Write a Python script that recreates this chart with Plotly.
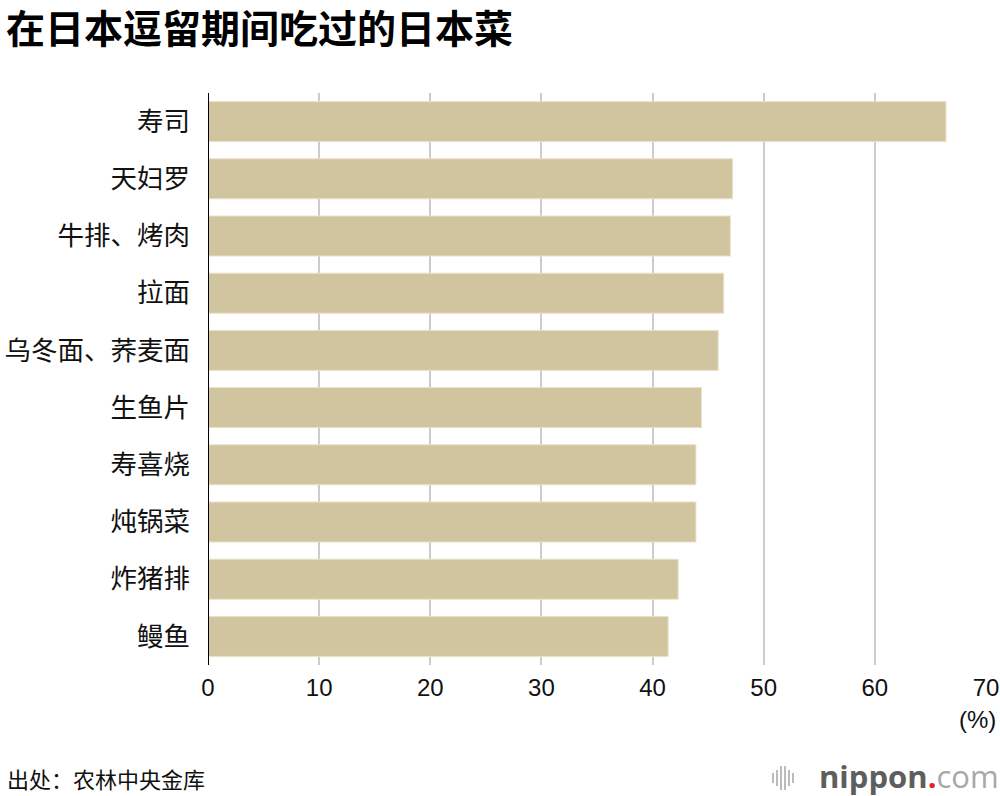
import plotly.graph_objects as go

categories = ["寿司", "天妇罗", "牛排、烤肉", "拉面", "乌冬面、荞麦面",
              "生鱼片", "寿喜烧", "炖锅菜", "炸猪排", "鳗鱼"]
values = [66.4, 47.2, 47.0, 46.4, 45.9, 44.4, 43.9, 43.9, 42.3, 41.4]
x_ticks = [0, 10, 20, 30, 40, 50, 60, 70]

W, H = 1000, 796
L, R, T, B = 208, 14, 93, 131
pw = W - L - R
ph = H - T - B

def px_x(px):
    return (px - L) / pw

def px_y(py):
    return (H - B - py) / ph

CJK = "Noto Sans CJK SC, Noto Sans, sans-serif"
NUM = "Liberation Sans, Arial, sans-serif"

fig = go.Figure(go.Bar(
    x=values, y=categories, orientation="h",
    marker=dict(color="#D1C5A0", line=dict(color="#E9E1CA", width=1)),
    width=0.7, hoverinfo="x+y",
))

fig.update_layout(
    width=W, height=H,
    margin=dict(l=L, r=R, t=T, b=B, autoexpand=False),
    paper_bgcolor="white", plot_bgcolor="white",
    showlegend=False,
    title=dict(text="<b>在日本逗留期间吃过的日本菜</b>", x=6 / W, xref="container", xanchor="left",
               y=1 - 29 / H, yref="container", yanchor="middle",
               font=dict(family=CJK, size=39, color="#000")),
    xaxis=dict(range=[0, 70], tickvals=x_ticks, ticktext=[str(v) for v in x_ticks],
               showgrid=True, gridcolor="#CCCCCC", gridwidth=2, zeroline=False,
               showline=False, ticks="", ticklabelstandoff=6,
               tickfont=dict(family=NUM, size=24, color="#111")),
    yaxis=dict(autorange="reversed", showgrid=False, zeroline=False,
               showline=False, ticks="", ticklabelstandoff=17,
               tickfont=dict(family=CJK, size=26.5, color="#111")),
    shapes=[dict(type="line", xref="x", yref="paper", x0=0, x1=0, y0=0, y1=1,
                 line=dict(color="#000", width=2))],
    annotations=[
        dict(text="(%)", xref="paper", yref="paper", x=px_x(998), y=px_y(719),
             xanchor="right", yanchor="middle", showarrow=False,
             font=dict(family=NUM, size=24, color="#111")),
        dict(text="出处：农林中央金库", xref="paper", yref="paper", x=px_x(5), y=px_y(778),
             xanchor="left", yanchor="middle", showarrow=False,
             font=dict(family=CJK, size=22, color="#111")),
        dict(text="<b>nippon</b><span style='color:#E8202A'><b>.</b></span><span style='color:#A8A8A8'>com</span>",
             xref="paper", yref="paper", x=px_x(1001), y=px_y(776),
             xanchor="right", yanchor="middle", showarrow=False,
             font=dict(family="Open Sans, Noto Sans, sans-serif", size=31, color="#5E5E5E")),
    ],
)

# small logo icon bars
icon_x = [773, 777, 781, 785, 789, 793]
icon_h = [10, 16, 24, 24, 16, 10]
for xx, hh in zip(icon_x, icon_h):
    fig.add_shape(type="line", xref="paper", yref="paper",
                  x0=px_x(xx), x1=px_x(xx), y0=px_y(778 - hh / 2), y1=px_y(778 + hh / 2),
                  line=dict(color="#BBBBBB", width=2))

fig.write_html("out.html", config={"displayModeBar": False})

with open("out.html", "r", encoding="utf-8") as f:
    html = f.read()
html = html.replace("<head>", "<head><style>html,body{margin:0;padding:0;overflow:hidden;}</style>", 1)
with open("out.html", "w", encoding="utf-8") as f:
    f.write(html)
